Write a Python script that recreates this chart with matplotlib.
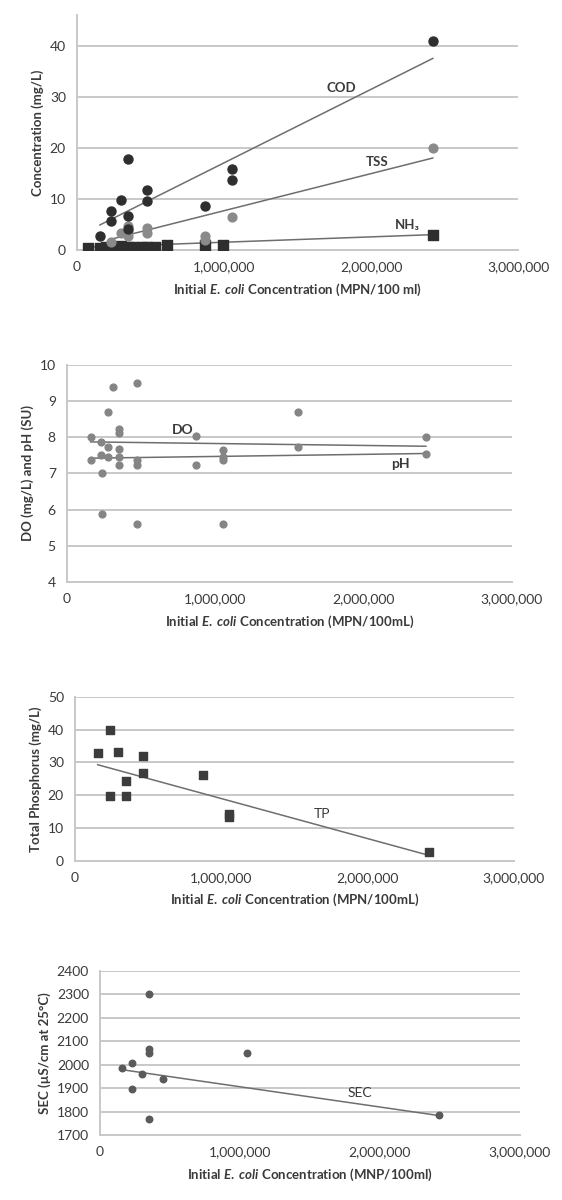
import matplotlib.pyplot as plt
from matplotlib.ticker import FuncFormatter

plt.rcParams['font.family'] = ['Lato', 'DejaVu Sans']
plt.rcParams['mathtext.fontset'] = 'custom'
plt.rcParams['mathtext.it'] = 'Lato:italic:bold'
plt.rcParams['mathtext.rm'] = 'Lato:bold'

# ---- panel 1: COD, TSS, NH3 ----
cod_x = [156000, 231000, 231000, 297000, 349000, 349000, 349000, 474000, 474000,
         871000, 1052000, 1052000, 2419600]
cod_y = [2.7, 7.7, 5.6, 9.7, 17.8, 6.7, 4.2, 11.8, 9.5, 8.7, 15.8, 13.7, 41.0]

tss_x = [231000, 297000, 349000, 349000, 349000, 474000, 474000, 871000, 871000,
         1052000, 2419600]
tss_y = [1.5, 3.3, 4.6, 3.6, 2.8, 4.3, 3.4, 2.7, 1.9, 6.4, 20.0]

nh3_x = [78000, 156000, 200000, 231000, 250000, 280000, 297000, 320000, 349000,
         380000, 410000, 440000, 474000, 500000, 530000, 610000, 871000, 990000,
         2419600]
nh3_y = [0.3, 0.4, 0.5, 0.6, 0.4, 0.5, 0.7, 0.4, 0.5, 0.6, 0.4, 0.5, 0.6, 0.4,
         0.5, 0.9, 1.0, 1.0, 3.0]

# linear trendlines as drawn in the original (start / end)
cod_fit_x, cod_fit_y = [156000, 2419600], [4.9, 37.5]
tss_fit_x, tss_fit_y = [231000, 2419600], [2.1, 18.0]
nh3_fit_x, nh3_fit_y = [78000, 2419600], [0.55, 3.0]

# ---- panel 2: DO and pH ----
do_x = [160000, 231000, 240000, 240000, 280000, 310000, 280000, 349000, 349000,
        349000, 474000, 474000, 871000, 1052000, 1052000, 1560000, 2419600]
do_y = [8.0, 7.87, 7.0, 5.87, 8.69, 9.4, 7.73, 8.23, 8.11, 7.68, 9.49, 5.61,
        8.02, 7.64, 5.61, 8.69, 8.0]

ph_x = [160000, 231000, 280000, 349000, 349000, 474000, 474000, 871000, 1052000,
        1052000, 1560000, 2419600]
ph_y = [7.38, 7.5, 7.45, 7.45, 7.22, 7.38, 7.22, 7.24, 7.45, 7.36, 7.73, 7.54]

do_fit_x, do_fit_y = [160000, 2419600], [7.87, 7.75]
ph_fit_x, ph_fit_y = [160000, 2419600], [7.42, 7.55]

# ---- panel 3: total phosphorus ----
tp_x = [155000, 240000, 296000, 240000, 350000, 350000, 467000, 467000, 873000,
        1050000, 1050000, 2419600]
tp_y = [32.8, 40.0, 33.1, 19.8, 24.2, 19.6, 32.1, 26.7, 26.2, 14.3, 13.3, 2.6]

tp_fit_x, tp_fit_y = [155000, 2419600], [29.3, 1.6]

# ---- panel 4: SEC ----
sec_x = [156000, 231000, 297000, 231000, 349000, 349000, 349000, 349000, 452000,
         1048000, 2419600]
sec_y = [1985, 2005, 1962, 1898, 2301, 2068, 2051, 1770, 1940, 2051, 1787]

sec_fit_x, sec_fit_y = [140000, 2419600], [1980, 1783]

x_ticks = [0, 1000000, 2000000, 3000000]

GRID = '#c8c8c8'
TREND = '#6e6e6e'
TXT = '#3a3a3a'


def style(ax, yticks, ylim, ylabel, xlabel):
    ax.set_xlim(0, 3000000)
    ax.set_ylim(*ylim)
    ax.set_xticks(x_ticks)
    ax.set_yticks(yticks)
    ax.xaxis.set_major_formatter(FuncFormatter(lambda v, p: f'{int(v):,}'))
    ax.grid(axis='y', color=GRID, lw=1.4, zorder=0)
    for s in ['top', 'right']:
        ax.spines[s].set_visible(False)
    ax.spines['left'].set_color(GRID)
    ax.spines['left'].set_linewidth(1.4)
    ax.spines['bottom'].set_color(GRID)
    ax.spines['bottom'].set_linewidth(1.4)
    ax.tick_params(length=0, labelsize=10, labelcolor=TXT, pad=8)
    ax.set_ylabel(ylabel, fontsize=9.5, fontweight='bold', color=TXT)
    ax.set_xlabel(xlabel, fontsize=9.5, fontweight='bold', color=TXT, labelpad=6)


fig = plt.figure(figsize=(5.62, 12), dpi=100)

ax1 = fig.add_axes([0.137, 0.7917, 0.785, 0.1958])
ax1.scatter(nh3_x, nh3_y, marker='s', s=45, color='#2e2e2e', zorder=3)
ax1.scatter(tss_x, tss_y, marker='o', s=40, color='#8a8a8a', zorder=3)
ax1.scatter(cod_x, cod_y, marker='o', s=42, color='#2e2e2e', zorder=4)
ax1.plot(cod_fit_x, cod_fit_y, color=TREND, lw=1.1, zorder=2)
ax1.plot(tss_fit_x, tss_fit_y, color=TREND, lw=1.1, zorder=2)
ax1.plot(nh3_fit_x, nh3_fit_y, color=TREND, lw=1.1, zorder=2)
ax1.text(1800000, 31.7, 'COD', fontsize=9.5, fontweight='bold', color=TXT, ha='center', va='center')
ax1.text(2040000, 17.3, 'TSS', fontsize=9.5, fontweight='bold', color=TXT, ha='center', va='center')
ax1.text(2250000, 4.8, 'NH₃', fontsize=9.5, fontweight='bold', color=TXT, ha='center', va='center')
style(ax1, [0, 10, 20, 30, 40], (0, 46), 'Concentration (mg/L)',
      r'Initial $E.$ $coli$ Concentration (MPN/100 ml)')

ax2 = fig.add_axes([0.119, 0.515, 0.792, 0.181])
ax2.scatter(do_x, do_y, marker='o', s=24, color='#858585', zorder=3)
ax2.scatter(ph_x, ph_y, marker='o', s=24, color='#858585', zorder=3)
ax2.plot(do_fit_x, do_fit_y, color=TREND, lw=1.1, zorder=2)
ax2.plot(ph_fit_x, ph_fit_y, color=TREND, lw=1.1, zorder=2)
ax2.text(780000, 8.2, 'DO', fontsize=10, fontweight='bold', color=TXT, ha='center', va='center')
ax2.text(2250000, 7.25, 'pH', fontsize=10, fontweight='bold', color=TXT, ha='center', va='center')
style(ax2, [4, 5, 6, 7, 8, 9, 10], (4, 10), 'DO (mg/L) and pH (SU)',
      r'Initial $E.$ $coli$ Concentration (MPN/100mL)')

ax3 = fig.add_axes([0.1335, 0.2828, 0.781, 0.1364])
ax3.scatter(tp_x, tp_y, marker='s', s=40, color='#3c3c3c', zorder=3)
ax3.plot(tp_fit_x, tp_fit_y, color=TREND, lw=1.1, zorder=2)
ax3.text(1690000, 14.3, 'TP', fontsize=10, color=TXT, ha='center', va='center')
style(ax3, [0, 10, 20, 30, 40, 50], (0, 50), 'Total Phosphorus (mg/L)',
      r'Initial $E.$ $coli$ Concentration (MPN/100mL)')

ax4 = fig.add_axes([0.178, 0.0542, 0.747, 0.1367])
ax4.scatter(sec_x, sec_y, marker='o', s=22, color='#5a5a5a', zorder=3)
ax4.plot(sec_fit_x, sec_fit_y, color=TREND, lw=1.1, zorder=2)
ax4.text(1860000, 1877, 'SEC', fontsize=10, color=TXT, ha='center', va='center')
style(ax4, list(range(1700, 2401, 100)), (1700, 2400), 'SEC (µS/cm at 25°C)',
      r'Initial $E.$ $coli$ Concentration (MNP/100ml)')

fig.savefig('out.png', dpi=100)
